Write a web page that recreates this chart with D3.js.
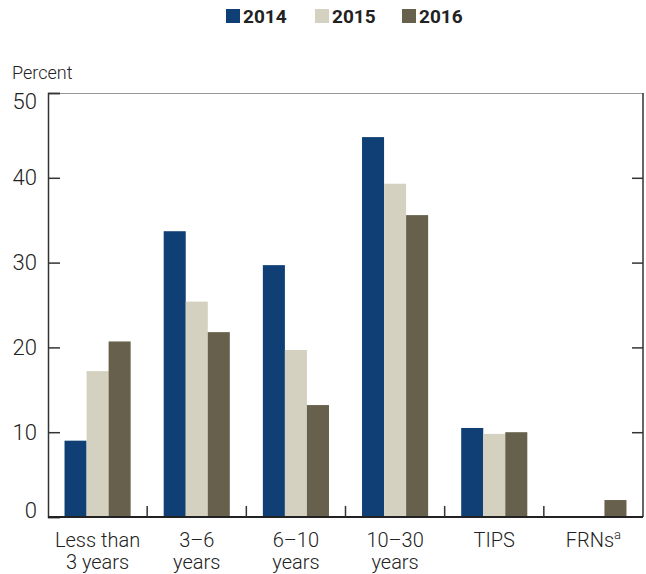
<!DOCTYPE html>
<html>
<head>
<meta charset="utf-8">
<script src="https://cdn.jsdelivr.net/npm/d3@7"></script>
<style>
  body { margin: 0; background: #fff; }
  text { font-family: Roboto, "Noto Sans", sans-serif; fill: #222; }
</style>
</head>
<body>
<svg width="646" height="574"></svg>
<script>
const categories = ['Less than|3 years', '3\u20136|years', '6\u201310|years', '10\u201330|years', 'TIPS', 'FRNs'];
const years = ['2014', '2015', '2016'];
const values2014 = [9.0, 33.7, 29.7, 44.8, 10.5, 0];
const values2015 = [17.2, 25.4, 19.7, 39.3, 9.8, 0];
const values2016 = [20.7, 21.8, 13.2, 35.6, 10.0, 2.0];
const yTicks = [0, 10, 20, 30, 40, 50];
const colors = ['#0f3f74', '#d4d1c0', '#67604c'];

const series = [values2014, values2015, values2016];

const svg = d3.select('svg');
const margin = {top: 93, right: 3, bottom: 57, left: 48};
const width = +svg.attr('width') - margin.left - margin.right;
const height = +svg.attr('height') - margin.top - margin.bottom;

const g = svg.append('g').attr('transform', 'translate(' + margin.left + ',' + margin.top + ')');

const x0 = d3.scaleBand().domain(categories).range([0, width]);
const x1 = d3.scaleBand().domain(years).range([0, x0.bandwidth()]).paddingOuter(0.75);
const y = d3.scaleLinear().domain([0, 50]).range([height, 0]);

// bars
categories.forEach((c, i) => {
  const grp = g.append('g').attr('transform', 'translate(' + x0(c) + ',0)');
  years.forEach((yr, j) => {
    const v = series[j][i];
    if (v <= 0) return;
    grp.append('rect')
      .attr('x', x1(yr))
      .attr('width', x1.bandwidth())
      .attr('y', y(v))
      .attr('height', height - y(v))
      .attr('fill', colors[j]);
  });
});

// frame
g.append('line').attr('x1', 0).attr('x2', width).attr('y1', 0.5).attr('y2', 0.5)
  .attr('stroke', '#999').attr('stroke-width', 1.2);
g.append('line').attr('x1', width).attr('x2', width).attr('y1', 0).attr('y2', height)
  .attr('stroke', '#333').attr('stroke-width', 1.5);

// left axis
const yAxis = g.append('g')
  .call(d3.axisLeft(y).tickValues(yTicks).tickSize(-12).tickPadding(11));
yAxis.select('.domain').attr('stroke', '#333').attr('stroke-width', 1.5);
yAxis.selectAll('.tick line').attr('stroke', '#333').attr('stroke-width', 1.5);
yAxis.selectAll('.tick text')
  .style('font-size', '22px').style('font-weight', 300).attr('fill', '#222')
  .attr('dy', d => d === 50 ? '0.7em' : d === 0 ? '0' : '0.32em');

// right ticks
const yAxisR = g.append('g').attr('transform', 'translate(' + width + ',0)')
  .call(d3.axisRight(y).tickValues(yTicks.slice(1, 5)).tickSize(-11).tickFormat(''));
yAxisR.select('.domain').remove();
yAxisR.selectAll('.tick line').attr('stroke', '#333').attr('stroke-width', 1.5);

// bottom axis
g.append('line').attr('x1', 0).attr('x2', width).attr('y1', height).attr('y2', height)
  .attr('stroke', '#222').attr('stroke-width', 2);
categories.slice(1).forEach(c => {
  g.append('line').attr('x1', x0(c)).attr('x2', x0(c)).attr('y1', height).attr('y2', height - 11)
    .attr('stroke', '#333').attr('stroke-width', 1.5);
});

// category labels (one text per line)
categories.forEach(c => {
  const cx = x0(c) + x0.bandwidth() / 2;
  c.split('|').forEach((l, k) => {
    const t = g.append('text')
      .attr('text-anchor', 'middle')
      .attr('x', cx)
      .attr('y', height + 30 + k * 22)
      .style('font-size', '20px').style('font-weight', 300)
      .text(l);
    if (c === 'FRNs') {
      t.append('tspan').attr('dy', -8).style('font-size', '13px').text('a');
    }
  });
});

// y label
svg.append('text').attr('x', 12).attr('y', 79)
  .style('font-size', '18px').style('font-weight', 300).text('Percent');

// legend
const legendX = [226, 315, 402];
years.forEach((yr, j) => {
  svg.append('rect').attr('x', legendX[j]).attr('y', 9).attr('width', 14).attr('height', 14).attr('fill', colors[j]);
  svg.append('text').attr('x', legendX[j] + 17).attr('y', 23)
    .style('font-size', '19px').style('font-weight', 700).text(yr);
});
</script>
</body>
</html>
